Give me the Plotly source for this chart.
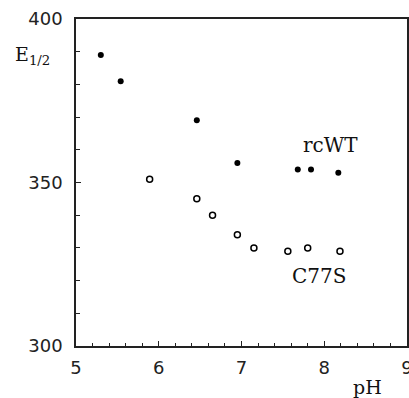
import plotly.graph_objects as go

ph_wt = [5.30, 5.54, 6.46, 6.95, 7.68, 7.84, 8.17]
e_wt = [389, 381, 369, 356, 354, 354, 353]
ph_c77s = [5.89, 6.46, 6.65, 6.95, 7.15, 7.56, 7.80, 8.19]
e_c77s = [351, 345, 340, 334, 330, 329, 330, 329]
x_ticks = [5, 6, 7, 8, 9]
y_ticks = [300, 350, 400]

fig = go.Figure()
fig.add_trace(go.Scatter(x=ph_wt, y=e_wt, mode="markers",
                         marker=dict(symbol="circle", size=6, color="black"),
                         name="rcWT", cliponaxis=False))
fig.add_trace(go.Scatter(x=ph_c77s, y=e_c77s, mode="markers",
                         marker=dict(symbol="circle-open", size=6, color="black",
                                     line=dict(width=1.5, color="black")),
                         name="C77S", cliponaxis=False))

tickfont = dict(family="DejaVu Sans", size=18, color="#222")
serif = "DejaVu Serif"

fig.update_layout(
    width=409, height=398, autosize=False,
    margin=dict(l=76, r=2, t=19, b=52),
    paper_bgcolor="white", plot_bgcolor="white",
    showlegend=False,
    xaxis=dict(range=[5, 9], tickvals=x_ticks, ticks="inside", ticklen=5,
               tickwidth=1, tickcolor="#222", showgrid=False, zeroline=False,
               showline=True, linecolor="#222", linewidth=1.5, mirror=True,
               automargin=False,
               tickfont=tickfont, ticklabelstandoff=5, ticklabeloverflow="allow",
               minor=dict(dtick=0.2, ticks="inside", ticklen=3, tickcolor="#222",
                          tickwidth=1, showgrid=False)),
    yaxis=dict(range=[300, 400], tickvals=y_ticks, ticks="inside", ticklen=5,
               tickwidth=1, tickcolor="#222", showgrid=False, zeroline=False,
               showline=True, linecolor="#222", linewidth=1.5, mirror=True,
               automargin=False,
               tickfont=tickfont, ticklabelstandoff=8, ticklabeloverflow="allow",
               minor=dict(dtick=10, ticks="inside", ticklen=4, tickcolor="#222",
                          tickwidth=1, showgrid=False)),
    annotations=[
        dict(x=8.07, y=361.5, xref="x", yref="y", text="rcWT", showarrow=False,
             xanchor="center", yanchor="middle",
             font=dict(family=serif, size=20, color="#111")),
        dict(x=7.94, y=321.4, xref="x", yref="y", text="C77S", showarrow=False,
             xanchor="center", yanchor="middle",
             font=dict(family=serif, size=20, color="#111")),
        dict(x=0.882, y=-0.125, xref="paper", yref="paper", text="pH", showarrow=False,
             xanchor="center", yanchor="middle",
             font=dict(family=serif, size=19, color="#111")),
        dict(x=-0.131, y=0.887, xref="paper", yref="paper",
             text="E<sub>1/2</sub>", showarrow=False,
             xanchor="center", yanchor="middle",
             font=dict(family=serif, size=19, color="#111")),
    ],
)

fig.write_html(
    "out.html",
    config={"displayModeBar": False, "responsive": False},
    post_script="document.body.style.margin='0';document.body.style.overflow='hidden';",
)
